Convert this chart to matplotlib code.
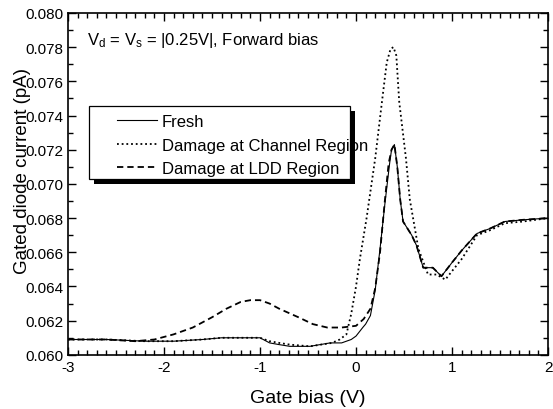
import matplotlib
matplotlib.use("Agg")
import matplotlib.pyplot as plt
from matplotlib.lines import Line2D
from matplotlib.patches import Rectangle
from matplotlib.legend_handler import HandlerLine2D
from matplotlib.ticker import MultipleLocator, FormatStrFormatter

plt.rcParams["font.family"] = ["Liberation Sans", "DejaVu Sans"]
plt.rcParams["mathtext.default"] = "regular"
plt.rcParams["axes.unicode_minus"] = False

# gate bias (V) and gated diode current (pA)
fresh_v = [-3.0, -2.6, -2.2, -1.9, -1.6, -1.4, -1.2, -1.0, -0.9, -0.8, -0.69, -0.48,
           -0.27, -0.15, -0.05, 0.0, 0.07, 0.1, 0.15, 0.2, 0.25, 0.3, 0.35, 0.37,
           0.40, 0.43, 0.46, 0.49, 0.58, 0.63, 0.70, 0.80, 0.89, 1.0, 1.10, 1.26,
           1.40, 1.55, 1.74, 2.0]
fresh_i = [0.0609, 0.0609, 0.0608, 0.0608, 0.0609, 0.0610, 0.0610, 0.0610, 0.0607,
           0.0606, 0.0605, 0.0605, 0.0607, 0.0607, 0.0609, 0.0611, 0.0616, 0.0618,
           0.0623, 0.0638, 0.0662, 0.0688, 0.0712, 0.0720, 0.0723, 0.0710, 0.0691,
           0.0678, 0.0670, 0.0664, 0.0651, 0.0651, 0.0646, 0.0654, 0.0661, 0.0671,
           0.0674, 0.0678, 0.0679, 0.0680]

channel_v = [-3.0, -2.6, -2.2, -1.9, -1.6, -1.4, -1.2, -1.0, -0.9, -0.8, -0.69, -0.48,
             -0.25, -0.17, -0.1, -0.05, 0.0, 0.04, 0.11, 0.2, 0.27, 0.32, 0.36, 0.39,
             0.42, 0.45, 0.52, 0.56, 0.65, 0.75, 0.84, 0.93, 1.0, 1.10, 1.26, 1.40,
             1.55, 1.74, 2.0]
channel_i = [0.0609, 0.0609, 0.0608, 0.0608, 0.0609, 0.0610, 0.0610, 0.0610, 0.0608,
             0.0607, 0.0606, 0.0605, 0.0607, 0.0609, 0.0612, 0.0624, 0.0640, 0.0656,
             0.0680, 0.0715, 0.0748, 0.0771, 0.0779, 0.0780, 0.0775, 0.0748, 0.0715,
             0.0691, 0.0662, 0.0647, 0.0647, 0.0644, 0.0649, 0.0656, 0.0670, 0.0673,
             0.0677, 0.0678, 0.0680]

ldd_v = [-3.0, -2.6, -2.3, -2.1, -1.9, -1.7, -1.5, -1.35, -1.2, -1.1, -1.0, -0.9,
         -0.8, -0.6, -0.45, -0.3, -0.15, 0.0, 0.08, 0.15, 0.2, 0.25, 0.3, 0.34, 0.37,
         0.40, 0.43, 0.46, 0.49, 0.58, 0.63, 0.70, 0.80, 0.89, 1.0, 1.10, 1.26, 1.40,
         1.55, 1.74, 2.0]
ldd_i = [0.0609, 0.0609, 0.0608, 0.0609, 0.0612, 0.0616, 0.0622, 0.0627, 0.0631,
         0.0632, 0.0632, 0.0630, 0.0627, 0.0622, 0.0618, 0.0616, 0.0616, 0.0617,
         0.0621, 0.0627, 0.0639, 0.0660, 0.0690, 0.0712, 0.0720, 0.0723, 0.0710,
         0.0691, 0.0678, 0.0670, 0.0664, 0.0651, 0.0651, 0.0646, 0.0654, 0.0661,
         0.0671, 0.0674, 0.0678, 0.0679, 0.0680]

labels = ["Fresh", "Damage at Channel Region", "Damage at LDD Region"]

fig = plt.figure(figsize=(5.53, 4.10), dpi=100)
ax = fig.add_axes([0.123, 0.132, 0.868, 0.834])

ax.plot(fresh_v, fresh_i, color="black", lw=0.8, label=labels[0])
ax.plot(channel_v, channel_i, color="black", lw=1.3, linestyle=(0, (1, 1.6)), label=labels[1])
ax.plot(ldd_v, ldd_i, color="black", lw=1.3, linestyle=(0, (3.5, 2.2)), label=labels[2])

ax.set_xlim(-3, 2)
ax.set_ylim(0.060, 0.080)
ax.xaxis.set_major_locator(MultipleLocator(1))
ax.xaxis.set_minor_locator(MultipleLocator(0.1))
ax.yaxis.set_major_locator(MultipleLocator(0.002))
ax.yaxis.set_minor_locator(MultipleLocator(0.001))
ax.yaxis.set_major_formatter(FormatStrFormatter("%.3f"))
ax.tick_params(which="both", direction="in", top=True, right=True, labelsize=11, width=1)
ax.tick_params(which="major", length=6)
ax.tick_params(which="minor", length=3.5)
for sp in ax.spines.values():
    sp.set_linewidth(1.2)

ax.set_xlabel("Gate bias (V)", fontsize=14, labelpad=11)
ax.set_ylabel("Gated diode current (pA)", fontsize=13.5)
ax.yaxis.set_label_coords(-0.077, 0.54)

ax.text(0.040, 0.909, r"V$_{d}$ = V$_{s}$ = |0.25V|, Forward bias",
        transform=ax.transAxes, fontsize=12, va="baseline")

# legend box with a solid black drop shadow (Origin style)
bx, by, bw, bh = 0.0438, 0.5146, 0.5437, 0.2134
ax.add_patch(Rectangle((bx + 0.0104, by - 0.0146), bw, bh, transform=ax.transAxes,
                       facecolor="black", edgecolor="none", zorder=4))
ax.add_patch(Rectangle((bx, by), bw, bh, transform=ax.transAxes,
                       facecolor="white", edgecolor="black", lw=0.9, zorder=5))
leg = ax.legend(loc="upper left", bbox_to_anchor=(bx, by + bh), fontsize=12,
                frameon=False, handlelength=3.58, handletextpad=0.3,
                borderpad=0.5, labelspacing=0.5, borderaxespad=0,
                handler_map={Line2D: HandlerLine2D(xpad=1.18)})
leg.set_zorder(6)

plt.savefig("out.png", dpi=100)
